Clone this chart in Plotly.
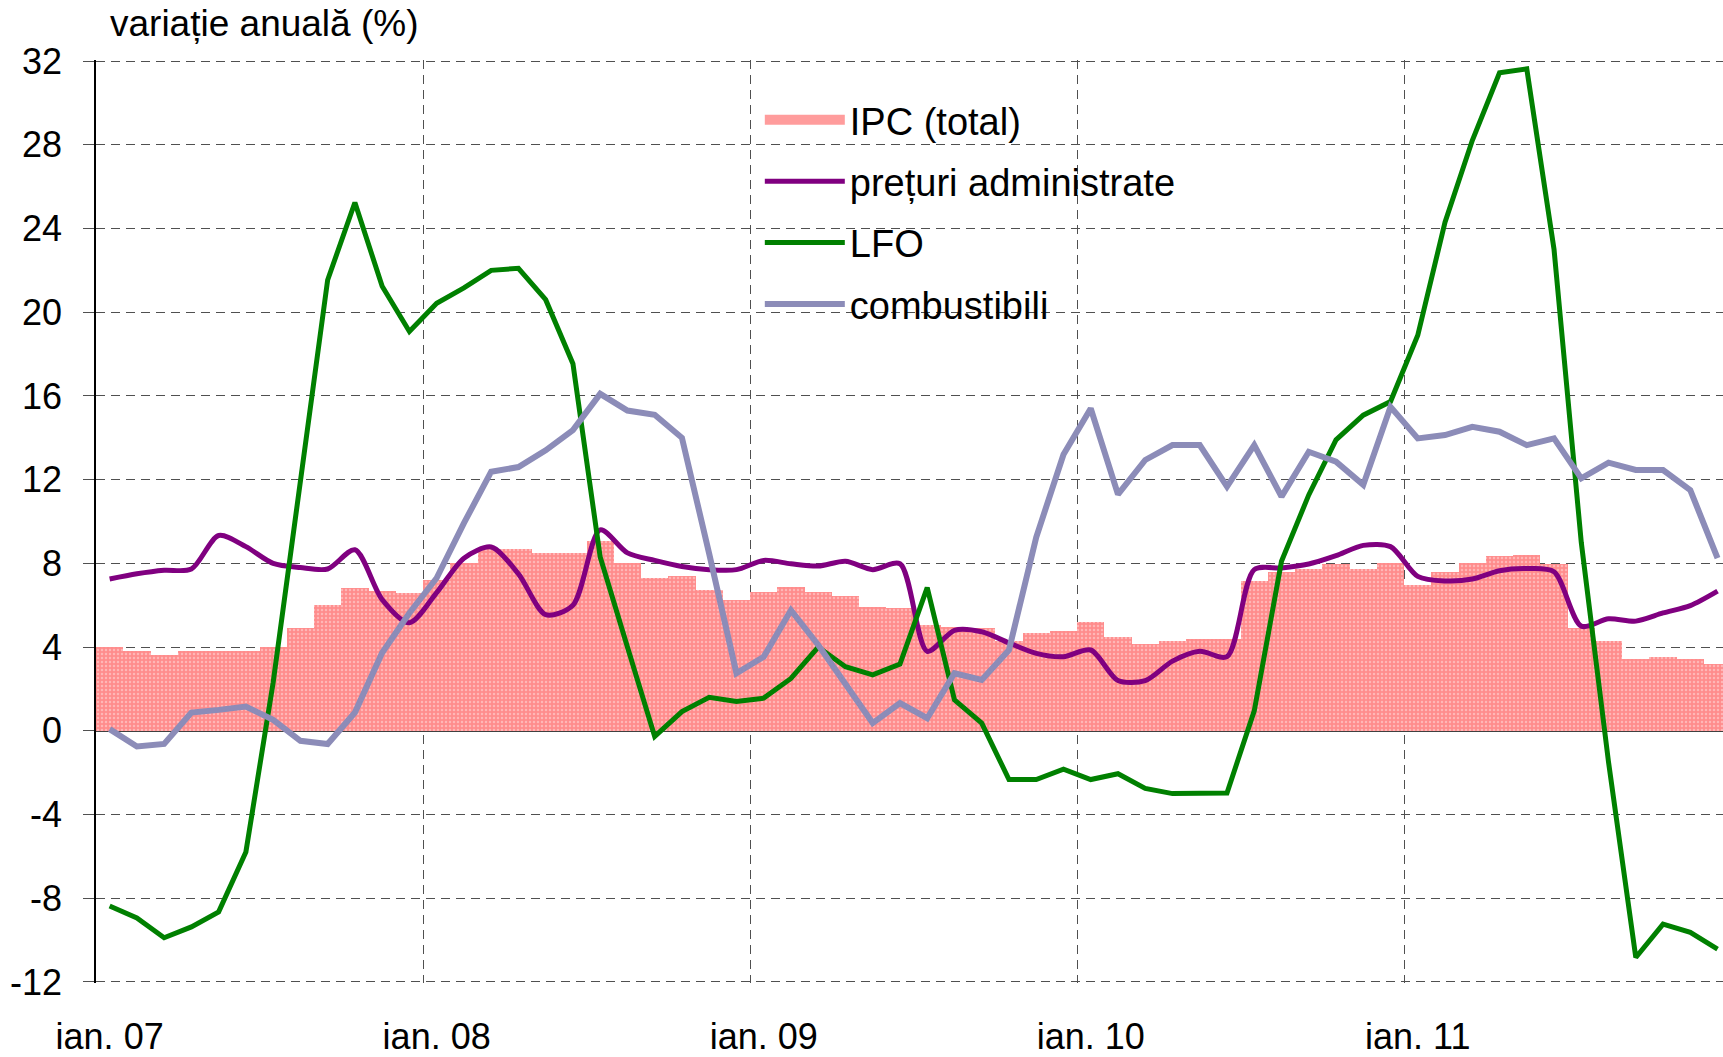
import plotly.graph_objects as go

months = list(range(60))
year_ticks = [0, 12, 24, 36, 48]
year_labels = ["ian. 07", "ian. 08", "ian. 09", "ian. 10", "ian. 11"]
year_bounds = [11.5, 23.5, 35.5, 47.5]
y_ticks = [-12, -8, -4, 0, 4, 8, 12, 16, 20, 24, 28, 32]
y_labels = ["-12", "-8", "-4", "0", "4", "8", "12", "16", "20", "24", "28", "32"]

ipc_total = [4.0, 3.8, 3.6, 3.8, 3.8, 3.8, 4.0, 4.9, 6.0, 6.8, 6.7, 6.6,
             7.2, 8.0, 8.7, 8.7, 8.5, 8.5, 9.05, 8.0, 7.3, 7.4, 6.75, 6.25,
             6.65, 6.85, 6.65, 6.45, 5.9, 5.85, 5.05, 4.95, 4.92, 4.3, 4.65, 4.75,
             5.22, 4.48, 4.17, 4.3, 4.4, 4.37, 7.14, 7.6, 7.75, 7.95, 7.75, 8.0,
             6.98, 7.6, 8.02, 8.37, 8.4, 7.97, 4.92, 4.3, 3.41, 3.54, 3.41, 3.17]

preturi_administrate = [7.25, 7.5, 7.67, 7.73, 9.33, 8.8, 8.0, 7.8, 7.73, 8.65, 6.27, 5.16,
                        6.6, 8.25, 8.78, 7.5, 5.55, 6.0, 9.6, 8.5, 8.14, 7.85, 7.7, 7.7,
                        8.14, 7.98, 7.87, 8.1, 7.7, 7.98, 3.8, 4.8, 4.73, 4.2, 3.7, 3.54,
                        3.86, 2.4, 2.4, 3.33, 3.8, 3.54, 7.7, 7.78, 7.97, 8.37, 8.86, 8.8,
                        7.38, 7.16, 7.25, 7.65, 7.75, 7.6, 5.0, 5.35, 5.24, 5.63, 5.98, 6.67]

lfo = [-8.37, -8.94, -9.89, -9.37, -8.65, -5.79, 2.3, 12.0, 21.54, 25.24, 21.24, 19.08,
       20.43, 21.16, 22.0, 22.1, 20.6, 17.54, 8.3, 4.0, -0.27, 0.92, 1.6, 1.4,
       1.56, 2.5, 4.0, 3.06, 2.67, 3.19, 6.84, 1.48, 0.37, -2.33, -2.33, -1.83,
       -2.33, -2.05, -2.75, -3.0, -2.97, -2.97, 0.95, 8.1, 11.27, 13.9, 15.08, 15.73,
       18.9, 24.3, 28.2, 31.44, 31.63, 23.0, 9.0, -1.5, -10.83, -9.24, -9.63, -10.43]

combustibili = [0.08, -0.75, -0.63, 0.87, 1.0, 1.16, 0.52, -0.48, -0.63, 0.87, 3.73, 5.63,
                7.3, 9.92, 12.38, 12.6, 13.4, 14.37, 16.1, 15.3, 15.1, 14.0, 8.46, 2.75,
                3.54, 5.76, 4.1, 2.2, 0.37, 1.32, 0.6, 2.75, 2.43, 3.86, 9.25, 13.2,
                15.4, 11.3, 12.94, 13.65, 13.65, 11.67, 13.65, 11.19, 13.33, 12.86, 11.75, 15.48,
                13.97, 14.13, 14.52, 14.29, 13.65, 13.97, 12.06, 12.81, 12.46, 12.46, 11.5, 8.25]

FONT = "Liberation Sans, Arial, sans-serif"
PINK = "#FF8C8C"

fig = go.Figure()
fig.add_trace(go.Bar(
    x=months, y=ipc_total, name="IPC (total)", width=1.0, showlegend=False,
    marker=dict(color=PINK, line=dict(width=0),
                pattern=dict(shape=".", fgcolor="#FFE0E0", size=4, solidity=0.3)),
    legendgroup="a"))
# legend entry for the bars (wide pink swatch, as in the original legend)
fig.add_trace(go.Scatter(
    x=[None], y=[None], name="IPC (total)", mode="lines",
    line=dict(color="#FF9C9C", width=22), legendgroup="a"))
fig.add_trace(go.Scatter(
    x=months, y=preturi_administrate, name="prețuri administrate", mode="lines",
    line=dict(color="#800080", width=5, shape="spline", smoothing=0.8),
    legendgroup="b"))
fig.add_trace(go.Scatter(
    x=months, y=lfo, name="LFO", mode="lines",
    line=dict(color="#008000", width=5),
    legendgroup="c"))
fig.add_trace(go.Scatter(
    x=months, y=combustibili, name="combustibili", mode="lines",
    line=dict(color="#8C8CB8", width=6),
    legendgroup="d"))

fig.update_layout(
    width=1723, height=1057,
    margin=dict(l=96, r=0, t=60, b=74),
    plot_bgcolor="white", paper_bgcolor="white",
    bargap=0,
    font=dict(family=FONT, size=36, color="black"),
    showlegend=True,
    legend=dict(x=0.408, y=0.969, xanchor="left", yanchor="top",
                bgcolor="rgba(0,0,0,0)", font=dict(family=FONT, size=38, color="black"),
                tracegroupgap=9, itemwidth=80),
    annotations=[dict(text="variație anuală (%)", xref="paper", yref="paper",
                      x=0, y=1, xanchor="left", yanchor="bottom", xshift=12, yshift=14,
                      showarrow=False, font=dict(family=FONT, size=37, color="black"))],
)

fig.update_xaxes(
    range=[-0.5, 59.2], automargin=False,
    tickmode="array", tickvals=year_ticks, ticktext=year_labels,
    ticks="outside", ticklen=22, tickcolor="rgba(0,0,0,0)",
    showgrid=False, zeroline=False, showline=False,
    tickfont=dict(family=FONT, size=36, color="black"),
    minor=dict(tickmode="array", tickvals=year_bounds, showgrid=True,
               gridcolor="#505050", gridwidth=1, griddash="9px,6px", ticks=""),
)

fig.update_yaxes(
    range=[-12.05, 32.05], automargin=False,
    tickmode="array", tickvals=y_ticks, ticktext=y_labels,
    ticks="outside", ticklen=11, tickcolor="#505050", tickwidth=1,
    showgrid=True, gridcolor="#505050", gridwidth=1, griddash="9px,6px",
    zeroline=True, zerolinecolor="#404040", zerolinewidth=1.5,
    showline=True, linecolor="black", linewidth=1.5,
    tickfont=dict(family=FONT, size=36, color="black"),
    ticklabelstandoff=14,
)

fig.write_html("out.html", config={"displayModeBar": False},
               post_script="document.body.style.margin='0px';document.body.style.overflow='hidden';")
